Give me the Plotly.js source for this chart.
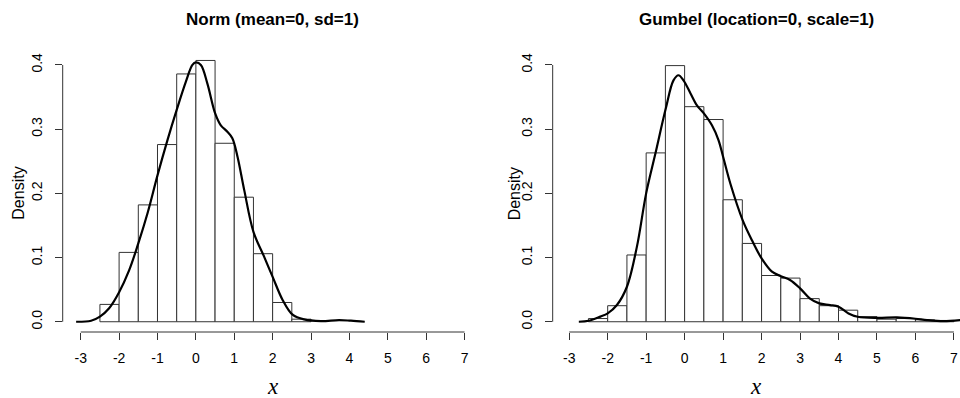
<!DOCTYPE html>
<html>
<head>
<meta charset="utf-8">
<script src="https://cdn.plot.ly/plotly-3.0.1.min.js"></script>
<style>html,body{margin:0;padding:0;background:#fff;}#chart{width:960px;height:398px;}</style>
</head>
<body>
<div id="chart"></div>
<script>
// ---- Data ----
var titleNorm = "Norm (mean=0, sd=1)";
var titleGumbel = "Gumbel (location=0, scale=1)";
var xTicks = [-3, -2, -1, 0, 1, 2, 3, 4, 5, 6, 7];
var xTickText = ["-3", "-2", "-1", "0", "1", "2", "3", "4", "5", "6", "7"];
var yTicks = [0.0, 0.1, 0.2, 0.3, 0.4];
var yTickText = ["0.0", "0.1", "0.2", "0.3", "0.4"];
var binWidth = 0.5;

// Normal histogram (bin left edges, densities)
var normBinLeft = [-2.5, -2.0, -1.5, -1.0, -0.5, 0.0, 0.5, 1.0, 1.5, 2.0, 2.5];
var normDens    = [0.027, 0.108, 0.182, 0.276, 0.386, 0.407, 0.278, 0.194, 0.106, 0.030, 0.004];
// Normal kernel density curve
var normKx = [-3.12, -2.73, -2.5, -2.26, -2.0, -1.74, -1.5, -1.26, -1.0, -0.74, -0.5, -0.26, -0.09, 0.0, 0.13, 0.30, 0.50, 0.65, 0.82, 0.95, 1.085, 1.26, 1.50, 1.78, 2.0, 2.26, 2.52, 2.82, 3.26, 3.73, 4.04, 4.40];
var normKy = [0.0, 0.0016, 0.008, 0.021, 0.046, 0.080, 0.122, 0.169, 0.228, 0.283, 0.330, 0.374, 0.400, 0.404, 0.400, 0.371, 0.325, 0.306, 0.296, 0.286, 0.257, 0.205, 0.140, 0.101, 0.070, 0.034, 0.011, 0.0036, 0.001, 0.0026, 0.0016, 0.0];

// Gumbel histogram
var gumBinLeft = [-2.5, -2.0, -1.5, -1.0, -0.5, 0.0, 0.5, 1.0, 1.5, 2.0, 2.5, 3.0, 3.5, 4.0, 4.5, 5.0, 5.5, 6.0, 6.5];
var gumDens    = [0.005, 0.025, 0.104, 0.263, 0.399, 0.335, 0.315, 0.190, 0.122, 0.072, 0.068, 0.036, 0.025, 0.018, 0.008, 0.004, 0.005, 0.003, 0.002];
// Gumbel kernel density curve
var gumKx = [-2.75, -2.49, -2.19, -2.0, -1.76, -1.50, -1.24, -1.0, -0.76, -0.49, -0.29, -0.16, -0.03, 0.15, 0.32, 0.50, 0.71, 0.88, 1.0, 1.19, 1.51, 1.75, 2.0, 2.27, 2.50, 2.74, 3.0, 3.26, 3.50, 3.78, 4.0, 4.26, 4.50, 5.0, 5.52, 6.0, 6.3, 6.73, 7.16];
var gumKy = [0.0, 0.0016, 0.008, 0.013, 0.026, 0.0545, 0.117, 0.200, 0.262, 0.332, 0.376, 0.384, 0.376, 0.356, 0.337, 0.3245, 0.306, 0.283, 0.257, 0.215, 0.158, 0.127, 0.0987, 0.078, 0.071, 0.065, 0.052, 0.036, 0.0286, 0.026, 0.0234, 0.013, 0.0078, 0.006, 0.0067, 0.0047, 0.0026, 0.001, 0.0026];

// ---- Traces ----
function histTrace(xl, d, xa, ya) {
  return {type: 'bar', x: xl, y: d, width: binWidth, offset: 0,
    xaxis: xa, yaxis: ya, marker: {color: '#ffffff', line: {color: '#333333', width: 1}},
    hoverinfo: 'x+y', showlegend: false};
}
function kdeTrace(x, y, xa, ya) {
  return {type: 'scatter', mode: 'lines', x: x, y: y, xaxis: xa, yaxis: ya,
    line: {color: '#000000', width: 2.2, shape: 'spline', smoothing: 1.0}, showlegend: false};
}
var data = [
  histTrace(normBinLeft, normDens, 'x', 'y'),
  kdeTrace(normKx, normKy, 'x', 'y'),
  histTrace(gumBinLeft, gumDens, 'x2', 'y2'),
  kdeTrace(gumKx, gumKy, 'x2', 'y2')
];

var tickFont = {family: 'Liberation Sans, Arial, sans-serif', size: 14, color: '#000'};
function xAxis(dom, rng, anchor) {
  return {domain: dom, range: rng, anchor: anchor, tickmode: 'array', tickvals: xTicks, ticktext: xTickText,
    ticks: 'outside', ticklen: 7, tickwidth: 1, tickcolor: '#333', showline: false,
    showgrid: false, zeroline: false, tickfont: tickFont, ticklabelstandoff: 6, fixedrange: true};
}
function yAxis(dom, rng, anchor) {
  return {domain: dom, range: rng, anchor: anchor, tickmode: 'array', tickvals: yTicks, ticktext: yTickText,
    ticks: 'outside', ticklen: 7, tickwidth: 1, tickcolor: '#333', showline: false,
    showgrid: false, zeroline: false, tickfont: tickFont, tickangle: -90, ticklabelstandoff: 7, fixedrange: true};
}
var yDom = [0.1658, 0.8626];
var yRange = [-0.016, 0.416];

function axisLines(xr, yr) {
  var xmin = xTicks[0], xmax = xTicks[xTicks.length - 1];
  var ymin = yTicks[0], ymax = yTicks[yTicks.length - 1];
  return [
    {type: 'line', xref: xr, yref: yr + ' domain', x0: xmin, x1: xmax, y0: 0, y1: 0, line: {color: '#333', width: 1}},
    {type: 'line', xref: xr + ' domain', yref: yr, x0: 0, x1: 0, y0: ymin, y1: ymax, line: {color: '#333', width: 1}}
  ];
}

var titleFont = {family: 'Liberation Sans, Arial, sans-serif', size: 17, color: '#000'};
var labFont = {family: 'Liberation Sans, Arial, sans-serif', size: 16, color: '#000'};
var xLabFont = {family: 'Liberation Serif, DejaVu Serif, serif', size: 23, color: '#000'};

var layout = {
  width: 960, height: 398,
  margin: {l: 0, r: 0, t: 0, b: 0},
  paper_bgcolor: '#fff', plot_bgcolor: '#fff',
  showlegend: false,
  xaxis: xAxis([0.0653, 0.5027], [-3.47, 7.47], 'y'),
  yaxis: yAxis(yDom, yRange, 'x'),
  xaxis2: xAxis([0.5757, 1.0], [-3.43, 7.158], 'y2'),
  yaxis2: yAxis(yDom, yRange, 'x2'),
  shapes: axisLines('x', 'y').concat(axisLines('x2', 'y2')),
  annotations: [
    {text: '<b>' + titleNorm + '</b>', xref: 'x domain', yref: 'paper', x: 0.5, y: 0.95, xanchor: 'center', yanchor: 'middle', showarrow: false, font: titleFont},
    {text: '<b>' + titleGumbel + '</b>', xref: 'x2 domain', yref: 'paper', x: 0.5, y: 0.95, xanchor: 'center', yanchor: 'middle', showarrow: false, font: titleFont},
    {text: 'Density', xref: 'paper', yref: 'y domain', x: 0.0191, y: 0.5, xanchor: 'center', yanchor: 'middle', textangle: -90, showarrow: false, font: labFont},
    {text: 'Density', xref: 'paper', yref: 'y2 domain', x: 0.5354, y: 0.5, xanchor: 'center', yanchor: 'middle', textangle: -90, showarrow: false, font: labFont},
    {text: '<i>x</i>', xref: 'x domain', yref: 'paper', x: 0.5, y: 0.03, xanchor: 'center', yanchor: 'middle', showarrow: false, font: xLabFont},
    {text: '<i>x</i>', xref: 'x2 domain', yref: 'paper', x: 0.5, y: 0.03, xanchor: 'center', yanchor: 'middle', showarrow: false, font: xLabFont}
  ]
};

Plotly.newPlot('chart', data, layout, {displayModeBar: false, staticPlot: true});
</script>
</body>
</html>
